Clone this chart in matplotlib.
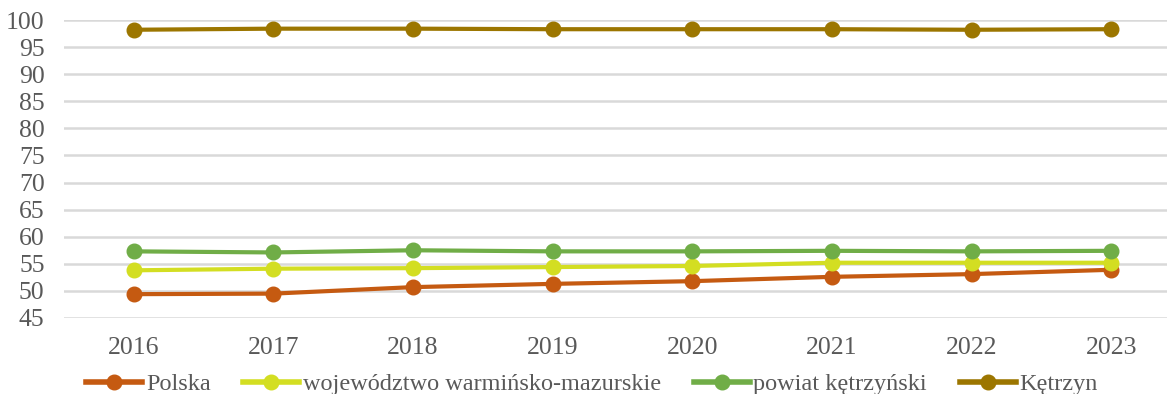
import matplotlib
matplotlib.use("Agg")
import matplotlib.pyplot as plt
from matplotlib.lines import Line2D

years = ["2016", "2017", "2018", "2019", "2020", "2021", "2022", "2023"]
polska = [49.4, 49.5, 50.7, 51.3, 51.8, 52.6, 53.1, 53.9]
wojewodztwo = [53.8, 54.1, 54.2, 54.4, 54.6, 55.2, 55.2, 55.2]
powiat = [57.3, 57.1, 57.5, 57.3, 57.3, 57.4, 57.3, 57.4]
ketrzyn = [98.2, 98.4, 98.4, 98.3, 98.3, 98.3, 98.2, 98.3]

series = [
    ("Polska", polska, "#C55A11"),
    ("województwo warmińsko-mazurskie", wojewodztwo, "#D3DE22"),
    ("powiat kętrzyński", powiat, "#70AD47"),
    ("Kętrzyn", ketrzyn, "#9C7600"),
]

plt.rcParams["font.family"] = ["Liberation Serif", "DejaVu Serif"]

W, H = 1167, 394
fig = plt.figure(figsize=(W / 100, H / 100), dpi=100)
left, right, top, bottom = 64, 1181, 20, 318
ax = fig.add_axes([left / W, 1 - bottom / H, (right - left) / W, (bottom - top) / H])

x = list(range(len(years)))
for name, vals, col in series:
    ax.plot(x, vals, color=col, lw=3.0, marker="o", ms=10.5, label=name,
            solid_capstyle="round", zorder=3)

ax.set_xlim(-0.5, len(years) - 0.5)
ax.set_ylim(45, 100)
ax.set_yticks(range(45, 101, 5))
ax.set_xticks(x)
ax.set_xticklabels(years)
ax.grid(axis="y", color="#D9D9D9", lw=1.8, zorder=0)
ax.set_axisbelow(True)
for s in ax.spines.values():
    s.set_visible(False)
ax.tick_params(axis="both", length=0, labelsize=18.5, colors="#595959")
ax.tick_params(axis="x", pad=14)
ax.tick_params(axis="y", pad=14)

handles = [Line2D([], [], color=c, lw=4, marker="o", ms=10.5) for _, _, c in series]
fig.legend(handles, [n for n, _, _ in series], loc="center", ncol=4,
           bbox_to_anchor=(592 / W, 1 - 384 / H), frameon=False,
           fontsize=17.5, labelcolor="#595959", handlelength=2.3,
           handletextpad=0.15, columnspacing=1.35, borderaxespad=0)

fig.savefig("out.png", dpi=100)
